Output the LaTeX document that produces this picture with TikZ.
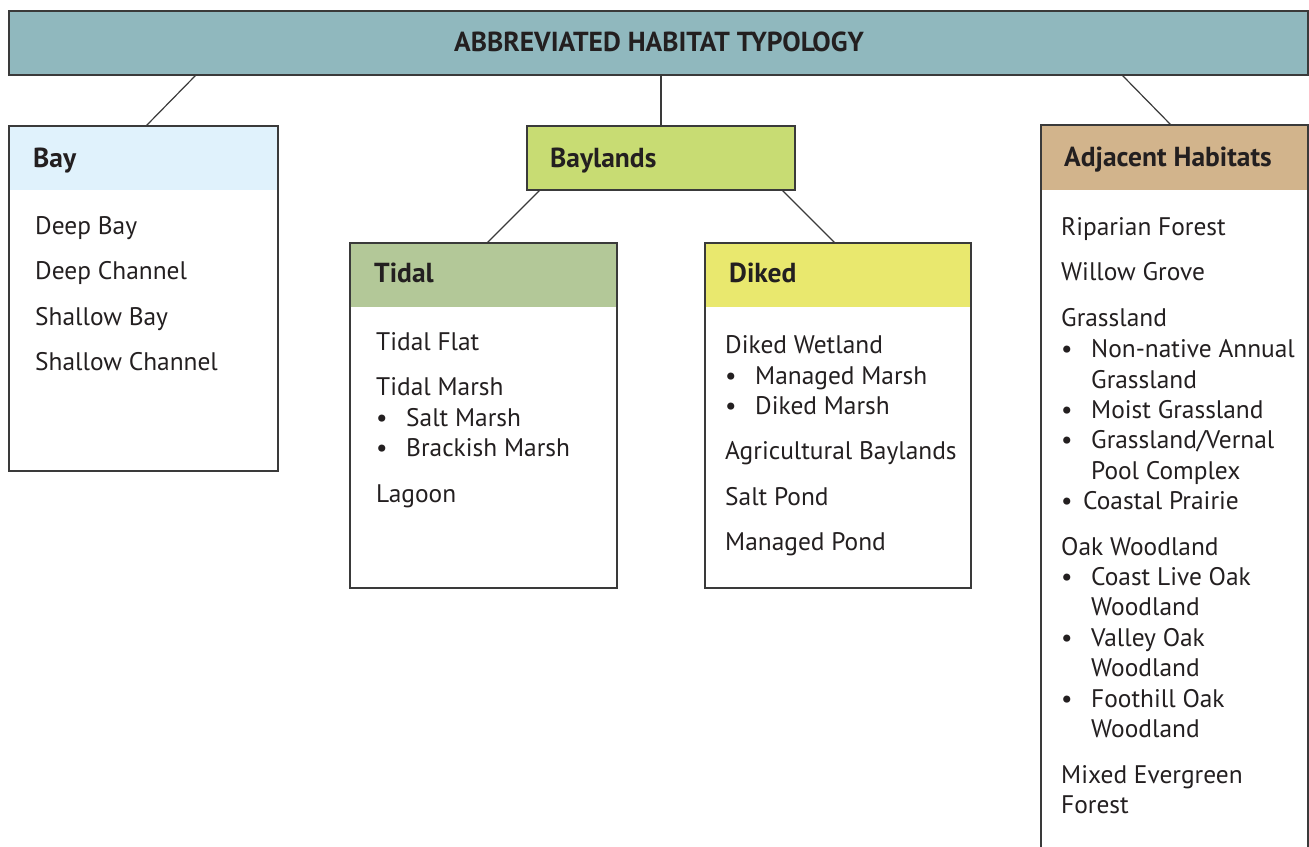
\documentclass[tikz,border=0pt]{standalone}
\usepackage{fontspec}
\setmainfont{PT Sans}
\usetikzlibrary{calc}
\definecolor{topc}{HTML}{90B8BE}
\definecolor{bayc}{HTML}{E0F2FC}
\definecolor{baylc}{HTML}{C8DC73}
\definecolor{tidc}{HTML}{B3C898}
\definecolor{dikc}{HTML}{E9E86E}
\definecolor{adjc}{HTML}{D2B48C}
\definecolor{edgec}{HTML}{3A3A3A}
\definecolor{txtc}{HTML}{231F20}
\tikzset{
  boxo/.style={draw=edgec, line width=1.3pt, inner sep=0pt, outer sep=0pt, anchor=north west},
  headf/.style={draw=none, inner sep=0pt, outer sep=0pt, anchor=north west},
  itemt/.style={anchor=base west, inner sep=0pt, text=txtc, font=\fontsize{25.4}{30}\selectfont},
  headt/.style={anchor=base west, inner sep=0pt, text=txtc, font=\fontsize{27.5}{32}\selectfont\bfseries},
  conn/.style={draw=edgec, line width=1.2pt}
}
\newcommand{\myitem}[4]{\node[itemt] (#1) at (#2,-#3) {#4};}
\newcommand{\mybul}[5]{\node[itemt] (#1d) at (#2,-#4) {•};\node[itemt] (#1) at (#3,-#4) {#5};}
\begin{document}
\begin{tikzpicture}[x=1pt,y=1pt]
\useasboundingbox (0,0) rectangle (1309,-846);
\begin{scope}
\clip (0,0) rectangle (1309,-846);
% top bar
\node[boxo, fill=topc, minimum width=1299pt, minimum height=64pt] (top) at (9,-11) {};
\node[headt, anchor=base] (title) at (659,-51) {ABBREVIATED HABITAT TYPOLOGY};
% Bay
\node[headf, fill=bayc, minimum width=269pt, minimum height=64pt] (bayh) at (9,-126) {};
\node[boxo, minimum width=269pt, minimum height=345pt] (bay) at (9,-126) {};
\node[headt] (bayt) at (33,-167) {Bay};
% Baylands
\node[boxo, fill=baylc, minimum width=268pt, minimum height=64pt] (bayl) at (527,-126) {};
\node[headt] (baylt) at (550,-167) {Baylands};
% Tidal
\node[headf, fill=tidc, minimum width=267pt, minimum height=64pt] (tidh) at (350,-243) {};
\node[boxo, minimum width=267pt, minimum height=345pt] (tid) at (350,-243) {};
\node[headt] (tidt) at (374,-282) {Tidal};
% Diked
\node[headf, fill=dikc, minimum width=266pt, minimum height=64pt] (dikh) at (705,-243) {};
\node[boxo, minimum width=266pt, minimum height=345pt] (dik) at (705,-243) {};
\node[headt] (dikt) at (729,-282) {Diked};
% Adjacent
\node[headf, fill=adjc, minimum width=267pt, minimum height=65pt] (adjh) at (1041,-125) {};
\node[boxo, minimum width=267pt, minimum height=740pt] (adj) at (1041,-125) {};
\node[headt] (adjt) at (1064,-166) {Adjacent Habitats};
\end{scope}
% connectors
\draw[conn] ($(top.south west)+(187,0)$) -- ($(bay.north west)+(137,0)$);
\draw[conn] ($(top.south west)+(652,0)$) -- ($(bayl.north west)+(134,0)$);
\draw[conn] ($(top.south west)+(1113,0)$) -- ($(adj.north west)+(130,0)$);
\draw[conn] ($(bayl.south west)+(13,0)$) -- ($(tid.north west)+(137,0)$);
\draw[conn] ($(bayl.south west)+(255,0)$) -- ($(dik.north west)+(130,0)$);
% Bay items
\myitem{b1}{35}{234}{Deep Bay}
\myitem{b2}{35}{279}{Deep Channel}
\myitem{b3}{35}{325}{Shallow Bay}
\myitem{b4}{35}{370}{Shallow Channel}
% Tidal items
\myitem{t1}{376}{350}{Tidal Flat}
\myitem{t2}{376}{395}{Tidal Marsh}
\mybul{t3}{376}{406}{426}{Salt Marsh}
\mybul{t4}{376}{406}{456}{Brackish Marsh}
\myitem{t5}{376}{502}{Lagoon}
% Diked items
\myitem{d1}{725}{353}{Diked Wetland}
\mybul{d2}{725}{755}{384}{Managed Marsh}
\mybul{d3}{725}{755}{414}{Diked Marsh}
\myitem{d4}{725}{459}{Agricultural Baylands}
\myitem{d5}{725}{505}{Salt Pond}
\myitem{d6}{725}{550}{Managed Pond}
% Adjacent items
\myitem{a1}{1061}{235}{Riparian Forest}
\myitem{a2}{1061}{280}{Willow Grove}
\myitem{a3}{1061}{326}{Grassland}
\mybul{a4}{1061}{1091}{357}{Non-native Annual}
\myitem{a5}{1091}{388}{Grassland}
\mybul{a6}{1061}{1091}{418}{Moist Grassland}
\mybul{a7}{1061}{1091}{448}{Grassland/Vernal}
\myitem{a8}{1091}{479}{Pool Complex}
\mybul{a9}{1061}{1083}{509}{Coastal Prairie}
\myitem{a10}{1061}{555}{Oak Woodland}
\mybul{a11}{1061}{1091}{585}{Coast Live Oak}
\myitem{a12}{1091}{615}{Woodland}
\mybul{a13}{1061}{1091}{646}{Valley Oak}
\myitem{a14}{1091}{676}{Woodland}
\mybul{a15}{1061}{1091}{707}{Foothill Oak}
\myitem{a16}{1091}{737}{Woodland}
\myitem{a17}{1061}{783}{Mixed Evergreen}
\myitem{a18}{1061}{813}{Forest}
\end{tikzpicture}
\end{document}
